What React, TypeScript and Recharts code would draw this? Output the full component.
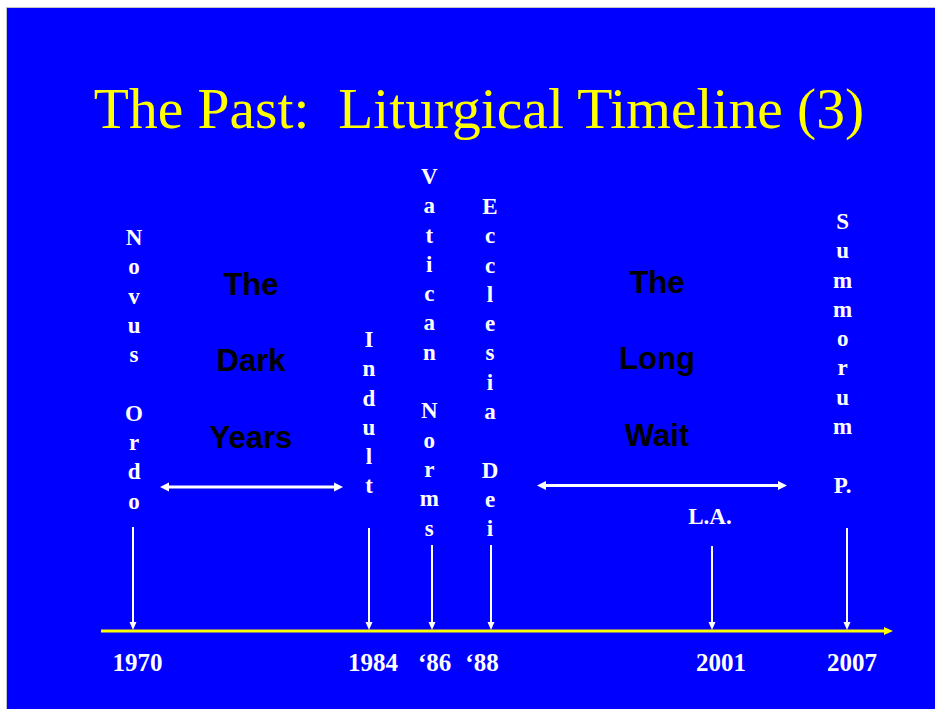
import React from 'react';
import { ComposedChart, XAxis, YAxis, Scatter, ReferenceLine } from 'recharts';

// ---- data ----
const titleText = 'The Past:  Liturgical Timeline (3)';

const eventNames = ['Novus Ordo', 'Indult', 'Vatican Norms', 'Ecclesia Dei', 'L.A.', 'Summorum P.'];
const eventOrient = ['v', 'v', 'v', 'v', 'h', 'v'];
// position along the (non-proportional) timeline, 0..100
const eventPos = [4.04, 33.84, 41.79, 49.24, 77.15, 94.19];
// height of each arrow's tail above the timeline, 0..100
const arrowTop = [16.48, 16.32, 13.63, 13.63, 13.47, 16.32];
const labelPos = [4.17, 33.84, 41.45, 49.12, 76.89, 93.65];
const labelTop = [61.17, 45.01, 70.84, 66.09, 16.96, 63.71];

const tickLabels = ['1970', '1984', '\u201886', '\u201888', '2001', '2007'];
const tickPos = [4.61, 34.34, 42.12, 48.11, 78.28, 94.82];

const periodNames = ['The Dark Years', 'The Long Wait'];
const periodPos = [18.94, 70.2];
const periodTop = [53.25, 53.57];
const periodStart = [7.45, 55.05];
const periodEnd = [30.56, 86.62];
const periodArrowY = [22.82, 23.06];

// ---- derived tables ----
const labelData = eventNames.map((name, i) => ({ name, orient: eventOrient[i], pos: labelPos[i], y: labelTop[i] }));
const periodData = periodNames.map((name, i) => ({ name, pos: periodPos[i], y: periodTop[i] }));

const SERIF = '"Liberation Serif", "Times New Roman", Times, serif';
const SANS = '"Liberation Sans", Arial, Helvetica, sans-serif';

function splitLines(t: string): string[] {
  const out: string[] = [];
  t.split(' ').forEach((w, i) => {
    if (i > 0) out.push('');
    const parts = w.match(/.\.?/g) || [];
    out.push(...parts);
  });
  return out;
}

const EventLabel = (props: any) => {
  const { cx, cy, payload } = props;
  if (payload.orient === 'h') {
    return (
      <text x={cx} y={cy} textAnchor="middle" fill="#ffffff" fontFamily={SERIF} fontWeight="bold" fontSize={23}>
        {payload.name}
      </text>
    );
  }
  const lines = splitLines(payload.name);
  return (
    <g>
      {lines.map((l, i) =>
        l ? (
          <text key={i} x={cx} y={cy + i * 29.3} textAnchor="middle" fill="#ffffff" fontFamily={SERIF} fontWeight="bold" fontSize={23}>
            {l}
          </text>
        ) : null
      )}
    </g>
  );
};

const PeriodLabel = (props: any) => {
  const { cx, cy, payload } = props;
  const lines = payload.name.split(' ');
  return (
    <g>
      {lines.map((l: string, i: number) => (
        <text key={i} x={cx} y={cy + i * 76.3} textAnchor="middle" fill="#000000" fontFamily={SANS} fontWeight="bold" fontSize={31}>
          {l}
        </text>
      ))}
    </g>
  );
};

const DownArrow = (p: any) => {
  const { x1, y1, y2 } = p;
  const top = Math.min(y1, y2);
  const bot = Math.max(y1, y2);
  const tip = bot - 1;
  return (
    <g>
      <line x1={x1} y1={top} x2={x1} y2={tip - 6} stroke="#ffffff" strokeWidth={2} />
      <polygon points={`${x1 - 3.5},${tip - 8} ${x1 + 3.5},${tip - 8} ${x1},${tip}`} fill="#ffffff" />
    </g>
  );
};

const DoubleArrow = (p: any) => {
  const { x1, x2, y1 } = p;
  const a = Math.min(x1, x2);
  const b = Math.max(x1, x2);
  return (
    <g>
      <line x1={a + 6} y1={y1} x2={b - 6} y2={y1} stroke="#ffffff" strokeWidth={3} />
      <polygon points={`${a},${y1} ${a + 9},${y1 - 4.5} ${a + 9},${y1 + 4.5}`} fill="#ffffff" />
      <polygon points={`${b},${y1} ${b - 9},${y1 - 4.5} ${b - 9},${y1 + 4.5}`} fill="#ffffff" />
    </g>
  );
};

const TimeAxis = (p: any) => {
  const { x1, x2, y1 } = p;
  return (
    <g>
      <line x1={x1} y1={y1} x2={x2 - 6} y2={y1} stroke="#ffff00" strokeWidth={3.2} />
      <polygon points={`${x2 - 9},${y1 - 4} ${x2},${y1} ${x2 - 9},${y1 + 4}`} fill="#ffff00" />
    </g>
  );
};

const YearTick = (p: any) => {
  const { x, y, payload } = p;
  const idx = tickPos.indexOf(payload.value);
  return (
    <text x={x} y={y + 40} textAnchor="middle" fill="#ffffff" fontFamily={SERIF} fontWeight="bold" fontSize={25}>
      {idx >= 0 ? tickLabels[idx] : ''}
    </text>
  );
};

export default function App() {
  return (
    <div style={{ position: 'absolute', left: 0, top: 0, width: 935, height: 709, background: '#ffffff', overflow: 'hidden' }}>
      <div
        style={{
          position: 'absolute',
          left: 6,
          top: 7,
          width: 929,
          height: 702,
          background: '#0000ff',
          borderLeft: '1px solid #c4c4c4',
          borderTop: '1px solid #c4c4c4',
          boxSizing: 'border-box',
        }}
      />
      <div style={{ position: 'absolute', left: 0, top: 0 }}>
        <ComposedChart width={935} height={709} margin={{ top: 0, right: 42, bottom: 0, left: 101 }}>
          <XAxis
            type="number"
            dataKey="pos"
            domain={[0, 100]}
            ticks={tickPos}
            interval={0}
            axisLine={false}
            tickLine={false}
            tickSize={0}
            tickMargin={0}
            height={78}
            tick={(p: any) => <YearTick {...p} />}
            allowDataOverflow
          />
          <YAxis type="number" dataKey="y" domain={[0, 100]} hide allowDataOverflow />
          <ReferenceLine
            segment={[{ x: 0, y: 0 }, { x: 100, y: 0 }]}
            ifOverflow="visible"
            shape={(p: any) => <TimeAxis {...p} />}
          />
          {eventPos.map((x, i) => (
            <ReferenceLine
              key={`ev${i}`}
              segment={[{ x, y: arrowTop[i] }, { x, y: 0 }]}
              ifOverflow="visible"
              shape={(p: any) => <DownArrow {...p} />}
            />
          ))}
          {periodStart.map((s, i) => (
            <ReferenceLine
              key={`pd${i}`}
              segment={[{ x: s, y: periodArrowY[i] }, { x: periodEnd[i], y: periodArrowY[i] }]}
              ifOverflow="visible"
              shape={(p: any) => <DoubleArrow {...p} />}
            />
          ))}
          <Scatter data={labelData} isAnimationActive={false} shape={(p: any) => <EventLabel {...p} />} />
          <Scatter data={periodData} isAnimationActive={false} shape={(p: any) => <PeriodLabel {...p} />} />
        </ComposedChart>
      </div>
      <svg width={935} height={709} style={{ position: 'absolute', left: 0, top: 0, pointerEvents: 'none' }}>
        <text x={479} y={128} textAnchor="middle" fill="#ffff00" fontFamily={SERIF} fontSize={57.5} style={{ whiteSpace: 'pre' }}>
          {titleText}
        </text>
      </svg>
    </div>
  );
}
